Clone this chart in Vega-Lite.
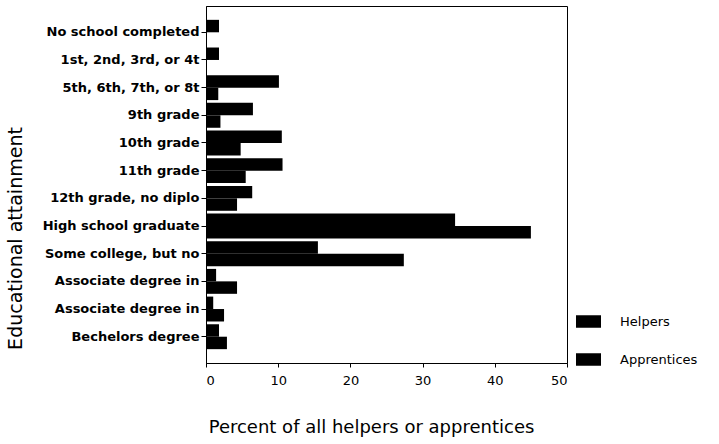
{
  "$schema": "https://vega.github.io/schema/vega-lite/v6.json",
  "autosize": "none",
  "width": 361,
  "height": 357,
  "padding": {"left": 206, "top": 6, "right": 152, "bottom": 81},
  "background": "white",
  "config": {
    "view": {"stroke": "black", "strokeWidth": 1},
    "font": "DejaVu Sans"
  },
  "data": {
    "values": [
      {"level": "No school completed", "group": "Helpers", "pct": 1.8},
      {"level": "No school completed", "group": "Apprentices", "pct": 0},
      {"level": "1st, 2nd, 3rd, or 4t", "group": "Helpers", "pct": 1.8},
      {"level": "1st, 2nd, 3rd, or 4t", "group": "Apprentices", "pct": 0},
      {"level": "5th, 6th, 7th, or 8t", "group": "Helpers", "pct": 10.1},
      {"level": "5th, 6th, 7th, or 8t", "group": "Apprentices", "pct": 1.7},
      {"level": "9th grade", "group": "Helpers", "pct": 6.5},
      {"level": "9th grade", "group": "Apprentices", "pct": 2.0},
      {"level": "10th grade", "group": "Helpers", "pct": 10.5},
      {"level": "10th grade", "group": "Apprentices", "pct": 4.8},
      {"level": "11th grade", "group": "Helpers", "pct": 10.6},
      {"level": "11th grade", "group": "Apprentices", "pct": 5.5},
      {"level": "12th grade, no diplo", "group": "Helpers", "pct": 6.4},
      {"level": "12th grade, no diplo", "group": "Apprentices", "pct": 4.3},
      {"level": "High school graduate", "group": "Helpers", "pct": 34.5},
      {"level": "High school graduate", "group": "Apprentices", "pct": 45.0},
      {"level": "Some college, but no", "group": "Helpers", "pct": 15.5},
      {"level": "Some college, but no", "group": "Apprentices", "pct": 27.4},
      {"level": "Associate degree in", "group": "Helpers", "pct": 1.4},
      {"level": "Associate degree in", "group": "Apprentices", "pct": 4.3},
      {"level": "Associate degree in ", "group": "Helpers", "pct": 1.0},
      {"level": "Associate degree in ", "group": "Apprentices", "pct": 2.5},
      {"level": "Bechelors degree", "group": "Helpers", "pct": 1.8},
      {"level": "Bechelors degree", "group": "Apprentices", "pct": 2.9}
    ]
  },
  "mark": {"type": "bar"},
  "encoding": {
    "y": {
      "field": "level",
      "type": "nominal",
      "sort": ["No school completed", "1st, 2nd, 3rd, or 4t", "5th, 6th, 7th, or 8t", "9th grade", "10th grade", "11th grade", "12th grade, no diplo", "High school graduate", "Some college, but no", "Associate degree in", "Associate degree in ", "Bechelors degree"],
      "scale": {"paddingInner": 0.1, "paddingOuter": 0.5},
      "axis": {
        "title": "Educational attainment",
        "titleFont": "DejaVu Sans",
        "titleFontSize": 19,
        "titleFontWeight": "normal",
        "titleColor": "black",
        "titleX": -191,
        "titleY": 232,
        "titleAngle": -90,
        "titleBaseline": "middle",
        "titleAlign": "center",
        "labelFontSize": 13,
        "labelFontWeight": "bold",
        "labelColor": "black",
        "labelPadding": 2,
        "tickSize": 5,
        "tickColor": "black",
        "domainColor": "black",
        "labelLimit": 300
      }
    },
    "x": {
      "field": "pct",
      "type": "quantitative",
      "scale": {"domain": [0, 50], "nice": false},
      "axis": {
        "title": "Percent of all helpers or apprentices",
        "titleFont": "DejaVu Sans",
        "titleFontSize": 18,
        "titleFontWeight": "normal",
        "titleColor": "black",
        "titlePadding": 31,
        "titleX": 165,
        "titleAlign": "center",
        "values": [0, 10, 20, 30, 40, 50],
        "grid": false,
        "labelFontSize": 13,
        "labelColor": "black",
        "labelPadding": 7,
        "tickSize": 4,
        "tickColor": "black",
        "domainColor": "black"
      }
    },
    "yOffset": {
      "field": "group",
      "type": "nominal",
      "sort": ["Helpers", "Apprentices"],
      "scale": {"paddingInner": 0, "paddingOuter": 0}
    },
    "color": {
      "field": "group",
      "type": "nominal",
      "sort": ["Helpers", "Apprentices"],
      "scale": {"range": ["black", "black"]},
      "legend": {
        "title": null,
        "orient": "none",
        "legendX": 370,
        "legendY": 303,
        "symbolType": "M-1,-0.5H1V0.5H-1Z",
        "symbolSize": 625,
        "symbolStrokeWidth": 0,
        "symbolOpacity": 1,
        "rowPadding": 18,
        "labelOffset": 19,
        "labelFontSize": 13,
        "labelColor": "black"
      }
    }
  }
}
